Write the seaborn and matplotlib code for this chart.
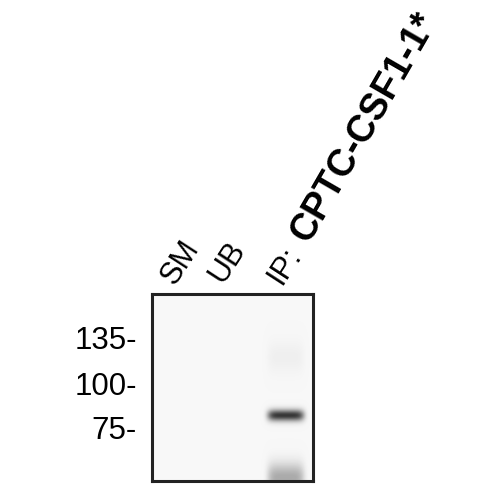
import numpy as np
import matplotlib
matplotlib.use("Agg")
import matplotlib.pyplot as plt
from matplotlib.colors import LinearSegmentedColormap
import seaborn as sns

# lanes of the blot and molecular weight markers (kDa)
lanes = ["SM", "UB", "IP"]
marker_kda = [135, 100, 75]

# detected bands: lane, apparent size (kDa), signal (0-1)
band_lane = ["IP", "IP", "IP"]
band_kda = [81, 119, 54]
band_signal = [0.82, 0.035, 0.33]

kda_top, kda_bottom = 179, 53
ny, nx = 188, 161

sns.set_style("white")
plt.rcParams['font.family'] = ['Liberation Sans', 'DejaVu Sans']
plt.rcParams['text.color'] = 'black'
plt.rcParams['ytick.color'] = 'black'

# build membrane image from the band list
logk = np.linspace(np.log10(kda_top), np.log10(kda_bottom), ny)[:, None]
xs = np.linspace(0, len(lanes), nx)[None, :]
img = np.full((ny, nx), 0.035)
spread = [0.016, 0.045, 0.04]
for lane, kda, sig, sp in zip(band_lane, band_kda, band_signal, spread):
    xc = lanes.index(lane) + 0.5
    prof_x = np.exp(-((xs - xc) / 0.34) ** 6)
    prof_y = np.exp(-((logk - np.log10(kda)) / sp) ** 2)
    img = img + sig * prof_x * prof_y
img = np.clip(img, 0, 1)

cmap = LinearSegmentedColormap.from_list("blot", ["#ffffff", "#151515"])

fig = plt.figure(figsize=(5, 5), dpi=100)
ax = fig.add_axes([152/500, 1-481/500, 161/500, 187/500])
sns.heatmap(img, ax=ax, cmap=cmap, vmin=0, vmax=1, cbar=False,
            xticklabels=False, yticklabels=False, rasterized=True)

span = np.log10(kda_top) - np.log10(kda_bottom)
ypos = [(np.log10(kda_top) - np.log10(m)) / span * ny for m in marker_kda]
ax.set_yticks(ypos)
ax.set_yticklabels([f"{m}-" for m in marker_kda], fontsize=22.5, rotation=0)
ax.tick_params(axis='y', length=0, pad=11)
ax.set_xticks([])

for s in ax.spines.values():
    s.set_visible(True)
    s.set_linewidth(2.2)
    s.set_color("#222222")

# lane labels
rot = 57
fig.text(175/500, 1-286/500, "SM", fontsize=22, rotation=rot,
         rotation_mode='anchor', ha='left', va='baseline')
fig.text(223/500, 1-284/500, "UB", fontsize=22, rotation=rot,
         rotation_mode='anchor', ha='left', va='baseline')
fig.text(281/500, 1-286/500, "IP:", fontsize=22, rotation=rot,
         rotation_mode='anchor', ha='left', va='baseline')
fig.text(309/500, 1-244/500, "CPTC-CSF1-1*", fontsize=27, weight='bold',
         rotation=60, rotation_mode='anchor', ha='left', va='baseline')

fig.savefig("out.png", dpi=100)
